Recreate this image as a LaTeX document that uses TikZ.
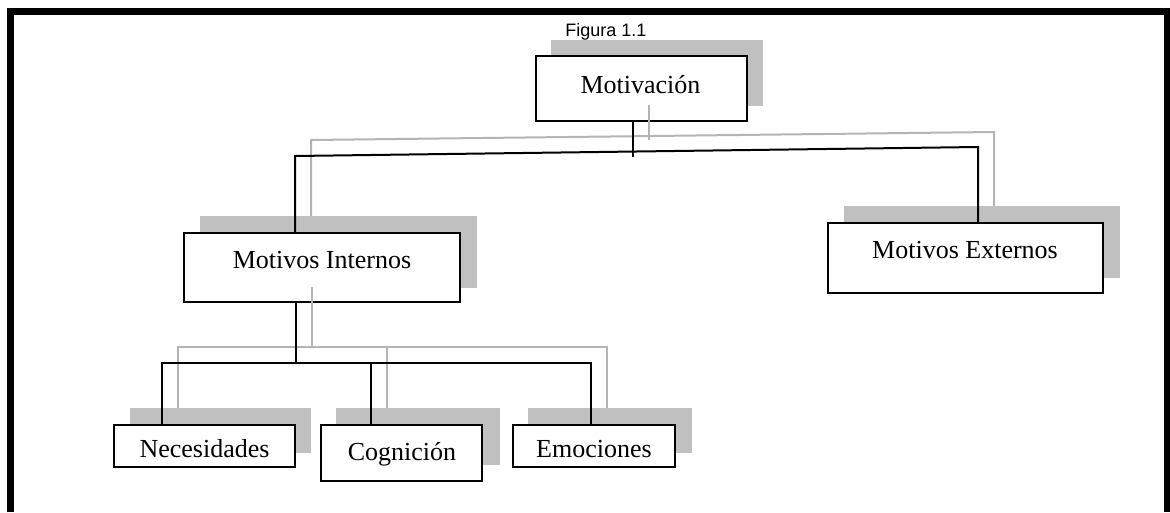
\documentclass[tikz,border=0pt]{standalone}
\usepackage{fontspec}
\setmainfont{Liberation Serif}
\newfontfamily\arialfont{Liberation Sans}
\definecolor{shadowgray}{RGB}{192,192,192}
\definecolor{linegray}{RGB}{180,180,180}
\begin{document}
\begin{tikzpicture}[x=1pt,y=-1pt,
  box/.style={draw=black,line width=2pt,fill=white,rectangle,inner sep=0pt},
  shadowfill/.style={fill=shadowgray},
  conn/.style={draw=black,line width=2pt},
  ghost/.style={draw=linegray,line width=2pt},
  lbl/.style={font=\fontsize{26}{30}\selectfont,anchor=base,inner sep=0pt},
  caption/.style={font=\arialfont\fontsize{18}{21}\selectfont,anchor=base,inner sep=0pt}]
\useasboundingbox (0,0) rectangle (1170,512);
% frame
\draw[line width=7pt,miter limit=10] (10.5,512) -- (10.5,11.5) -- (1167.5,11.5) -- (1167.5,512);
% shadows
\fill[shadowfill] (551,40) rectangle (763,106);
\fill[shadowfill] (200,216) rectangle (477,288);
\fill[shadowfill] (844,206) rectangle (1120,278);
\fill[shadowfill] (130,408) rectangle (311,453);
\fill[shadowfill] (336,408) rectangle (500,465);
\fill[shadowfill] (528,408) rectangle (692,453);
% boxes
\node[box,minimum width=211pt,minimum height=65pt] (mot) at (641.5,88.5) {};
\node[box,minimum width=276pt,minimum height=69pt] (int) at (322,267.5) {};
\node[box,minimum width=275pt,minimum height=70pt] (ext) at (965.5,258) {};
\node[box,minimum width=181pt,minimum height=42pt] (nec) at (204.5,446) {};
\node[box,minimum width=161pt,minimum height=56pt] (cog) at (401.5,453) {};
\node[box,minimum width=162pt,minimum height=42pt] (emo) at (594,446) {};
% gray (shadow) connectors
\coordinate (gM) at (649,105);
\coordinate (gMJ) at (649,140);
\coordinate (gL) at (311,140);
\coordinate (gR) at (994,132);
\draw[ghost] (gM) -- (gMJ);
\draw[ghost] (311,216) -- (gL) -- (gR) -- (994,206);
\coordinate (gI) at (312,287);
\coordinate (gIJ) at (312,347);
\coordinate (gN) at (178,347);
\coordinate (gC) at (387,347);
\coordinate (gE) at (607,347);
\draw[ghost] (gI) -- (gIJ);
\draw[ghost] (178,408) -- (gN) -- (gE) -- (607,408);
\draw[ghost] (gC) -- (387,408);
% black connectors
\coordinate (mJ) at (633,157);
\coordinate (bL) at (295,156);
\coordinate (bR) at (978,147);
\draw[conn] (mot.south -| mJ) -- (mJ);
\draw[conn] (int.north -| bL) -- (bL) -- (bR) -- (ext.north -| bR);
\coordinate (iJ) at (296,363);
\coordinate (nJ) at (162,363);
\coordinate (cJ) at (371,363);
\coordinate (eJ) at (591,363);
\draw[conn] (int.south -| iJ) -- (iJ);
\draw[conn] (nec.north -| nJ) -- (nJ) -- (eJ) -- (emo.north -| eJ);
\draw[conn] (cJ) -- (cog.north -| cJ);
% texts
\node[caption] (fig) at (606,36) {Figura 1.1};
\node[lbl] (motl) at (640.5,93) {Motivación};
\node[lbl] (intl) at (322,268) {Motivos Internos};
\node[lbl] (extl) at (965,258) {Motivos Externos};
\node[lbl] (cogl) at (402,460) {Cognición};
\begin{scope}
\clip (113,424) rectangle (296,458);
\node[lbl] (necl) at (204.5,457.5) {Necesidades};
\end{scope}
\begin{scope}
\clip (512,424) rectangle (676,458);
\node[lbl] (emol) at (594,457.5) {Emociones};
\end{scope}
\end{tikzpicture}
\end{document}
